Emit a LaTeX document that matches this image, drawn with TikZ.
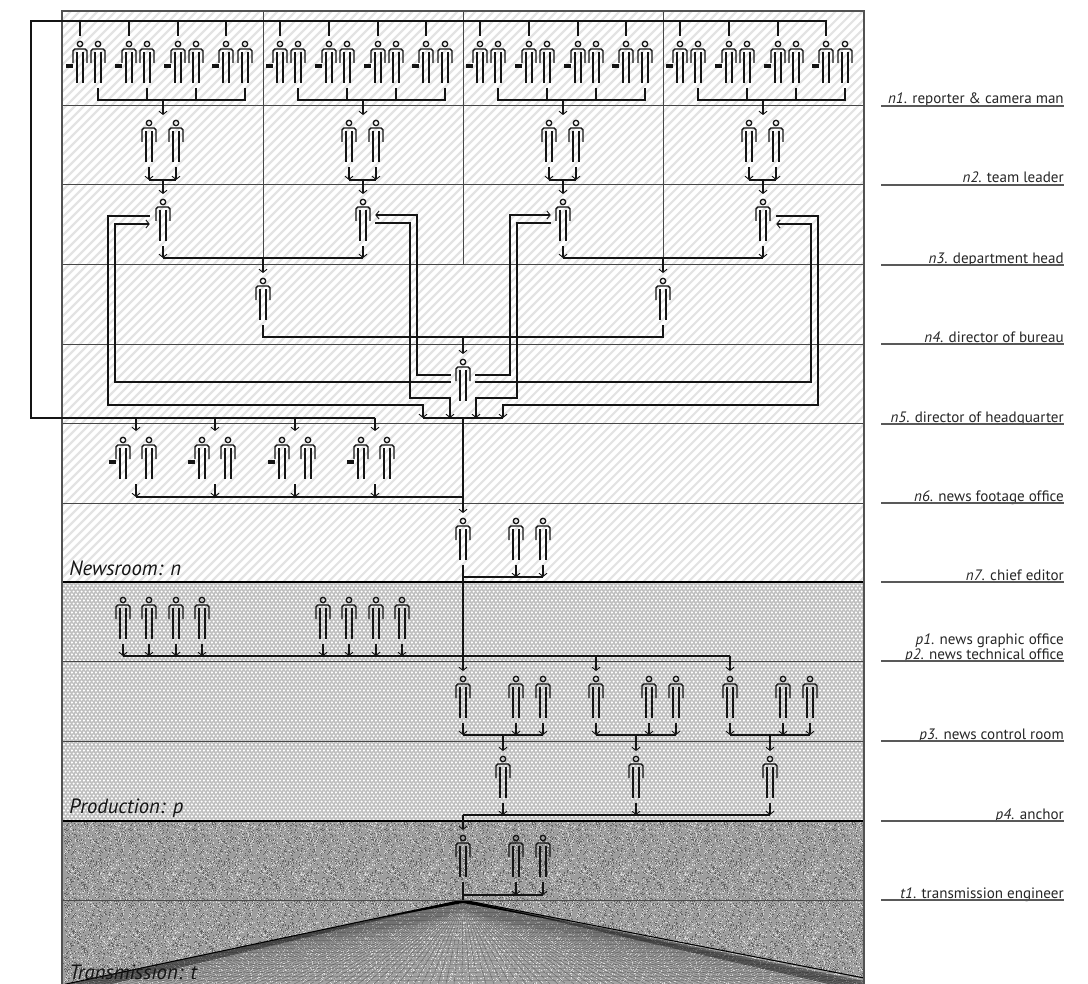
\documentclass[tikz,border=0pt]{standalone}
\usepackage{fontspec}
\setmainfont{PT Sans}
\usetikzlibrary{arrows.meta,calc,patterns}
\pgfdeclarepatternformonly{hexcells}{\pgfqpoint{0pt}{0pt}}{\pgfqpoint{2.8pt}{4.8pt}}{\pgfqpoint{2.8pt}{4.8pt}}{%
  \pgfpathcircle{\pgfqpoint{0.7pt}{1.2pt}}{0.95pt}%
  \pgfpathcircle{\pgfqpoint{2.1pt}{3.6pt}}{0.95pt}%
  \pgfusepath{fill}}
\pgfmathsetseed{4711}
\pgfdeclarepatternformonly{speckA}{\pgfqpoint{-1pt}{-1pt}}{\pgfqpoint{49pt}{49pt}}{\pgfqpoint{48pt}{48pt}}{%
  \foreach \n in {1,...,520}{\pgfmathsetmacro\sx{rnd*47}\pgfmathsetmacro\sy{rnd*47}%
    \pgfpathrectangle{\pgfpoint{\sx pt}{\sy pt}}{\pgfqpoint{0.75pt}{0.75pt}}\pgfusepath{fill}}}
\pgfdeclarepatternformonly{speckB}{\pgfqpoint{-1pt}{-1pt}}{\pgfqpoint{49pt}{49pt}}{\pgfqpoint{48pt}{48pt}}{%
  \foreach \n in {1,...,520}{\pgfmathsetmacro\sx{rnd*47}\pgfmathsetmacro\sy{rnd*47}%
    \pgfpathrectangle{\pgfpoint{\sx pt}{\sy pt}}{\pgfqpoint{0.75pt}{0.75pt}}\pgfusepath{fill}}}
\definecolor{ink}{gray}{0.08}
\tikzset{
  x=0.75pt,y=-0.75pt,
  figbox/.style={inner sep=0pt,minimum width=10.5pt,minimum height=31.9pt},
  figline/.style={draw=ink,line width=1pt},
  figure/.pic={
    \draw[figline] (0,0) circle [radius=2.7];
    \draw[figline,rounded corners=1.4pt] (-7,19)--(-7,5)--(7,5)--(7,19);
    \draw[figline] (-3,8)--(-3,39) (3,8)--(3,39);
  },
  camera/.pic={\fill[ink] (-14,20.3) rectangle (-7,24);},
  link/.style={draw=ink,line width=1.15pt},
  arr/.style={link,-{Straight Barb[length=2.4pt,width=6pt,line width=0.7pt]}},
  heavy/.style={draw=ink,line width=1.5pt},
  rowline/.style={draw=black!72,line width=0.75pt},
  rowheavy/.style={draw=black,line width=1.15pt},
  framed/.style={draw=black!68,line width=1.1pt},
  rule/.style={draw=black!65,line width=0.8pt},
  tag/.style={anchor=base east,inner sep=0pt,font=\fontsize{11.3pt}{13pt}\selectfont,text=black!85},
  zone/.style={anchor=base west,inner sep=0pt,font=\fontsize{15.5pt}{17pt}\selectfont\itshape,text=ink},
}
\newcommand\person[3]{%
  \node[figbox] (#1) at ({#2},{#3+18}) {};
  \coordinate (#1ft) at ({#2},{#3+44});
  \coordinate (#1cr) at ({#2},{#3-8});
  \pic at ({#2},{#3}) {figure};}
\newcommand\reporter[3]{\person{#1}{#2}{#3}\pic at ({#2},{#3}) {camera};}
\begin{document}
\begin{tikzpicture}
\useasboundingbox (0,0) rectangle (1088,984);
% ---------- backgrounds
\begin{scope}
  \clip (62,11) rectangle (864,582);
  \draw[draw=black!11,line width=1.6pt] foreach \k in {-509,-500,...,864} {(\k,582) -- ({\k+571},11)};
\end{scope}
\fill[black!25] (62,582) rectangle (864,821);
\fill[pattern=hexcells,pattern color=white] (62,582) rectangle (864,821);
\fill[black!38] (62,821) rectangle (864,984);
\fill[pattern=speckA,pattern color=black!15] (62,821) rectangle (864,984);
\fill[pattern=speckB,pattern color=black!62] (62,821) rectangle (864,984);
% ---------- fan
\coordinate (apex) at (463,900);
\begin{scope}
  \clip (apex) -- (66,984) -- (864,984) -- (864,978) -- cycle;
  \fill[black!36] (62,900) rectangle (864,984);
  \fill[pattern=speckA,pattern color=black!12] (62,900) rectangle (864,984);
  \draw[draw=black,opacity=.3,line width=.4pt] foreach \k in {62,70,...,866} {(apex) -- (\k,984)};
  \draw[draw=black,opacity=.4,line width=.3pt] foreach \k in {68,71,...,110} {(apex) -- (\k,984)};
  \draw[draw=black,opacity=.4,line width=.3pt] foreach \k in {830,833,...,880} {(apex) -- (\k,984)};
  \draw[draw=black,opacity=.15,line width=.35pt] foreach \k in {904,908,...,984} {(62,\k) -- (864,\k)};
\end{scope}
\fill[black] (apex) -- (370,920) -- (463,903) -- (565,922) -- cycle;
\draw[draw=black,line width=.8pt] (apex) -- (66,984);
\draw[draw=black,line width=.8pt] (apex) -- (864,978);
% ---------- row and column rules
\foreach \yy in {106,185,265,344,423,503,661,741,900} {\draw[rowline] (62,\yy) -- (864,\yy);}
\foreach \yy in {582,821} {\draw[rowheavy] (62,\yy) -- (864,\yy);}
\foreach \xx in {263,463,663} {\draw[rowline] (\xx,11) -- (\xx,265);}
\draw[framed] (62,11) rectangle (864,986);
% ---------- people
\foreach \b/\bx in {0/0,1/200,2/400,3/600}{
  \foreach \i/\rx/\cx in {1/80/98,2/129/147,3/178/196,4/226/245}{
    \reporter{R\b\i}{\rx+\bx}{44}
    \person{C\b\i}{\cx+\bx}{44}
  }
  \person{S\b1}{149+\bx}{123}
  \person{S\b2}{176+\bx}{123}
  \person{H\b}{163+\bx}{202}
}
\person{D0}{263}{281}
\person{D1}{663}{281}
\person{X}{463}{362}
\foreach \i/\rx/\cx in {1/123/149,2/202/228,3/282/308,4/361/387}{
  \reporter{F\i}{\rx}{440}
  \person{G\i}{\cx}{440}
}
\person{E0}{463}{521}\person{E1}{516}{521}\person{E2}{543}{521}
\foreach \i/\qx in {1/123,2/149,3/176,4/202,5/323,6/349,7/376,8/402}{\person{Q\i}{\qx}{600}}
\foreach \i/\bx in {1/0,2/133,3/267}{
  \person{P\i0}{463+\bx}{679}\person{P\i1}{516+\bx}{679}\person{P\i2}{543+\bx}{679}
}
\person{A1}{503}{759}\person{A2}{636}{759}\person{A3}{770}{759}
\person{T0}{463}{838}\person{T1}{516}{838}\person{T2}{543}{838}
% ---------- top levels wiring
\coordinate (c9) at (31,21);
\coordinate (c10) at (31,418);
\coordinate (bus) at (463,418);
\foreach \i/\fx in {1/136,2/215,3/295,4/375}{
  \coordinate (Fj\i) at (\fx,418);
  \coordinate (Fk\i) at (\fx,497);
}
\draw[heavy] (R34cr) |- (c9) -- (c10) -- (Fj4);
\foreach \b/\bx in {0/0,1/200,2/400,3/600}{
  \foreach \i in {1,2,3,4}{\draw[heavy] (R\b\i cr) -- (R\b\i cr |- c9);}
  \coordinate (J\b) at (163+\bx,100);
  \draw[link] (C\b1ft) -- (C\b1ft |- J\b) -- (C\b4ft |- J\b) -- (C\b4ft);
  \draw[link] (C\b2ft) -- (C\b2ft |- J\b);
  \draw[link] (C\b3ft) -- (C\b3ft |- J\b);
  \draw[arr] (J\b) -- (J\b |- S\b1cr);
  \coordinate (K\b) at (163+\bx,180);
  \draw[arr] (S\b1ft) -- (S\b1ft |- K\b);
  \draw[arr] (S\b2ft) -- (S\b2ft |- K\b);
  \draw[link] (S\b1ft |- K\b) -- (S\b2ft |- K\b);
  \draw[arr] (K\b) -- (H\b cr);
}
\coordinate (L0) at (263,258);
\coordinate (L1) at (663,258);
\draw[arr] (H0ft) -- (H0ft |- L0);
\draw[arr] (H1ft) -- (H1ft |- L0);
\draw[link] (H0ft |- L0) -- (H1ft |- L0);
\draw[arr] (L0) -- (D0cr);
\draw[arr] (H2ft) -- (H2ft |- L1);
\draw[arr] (H3ft) -- (H3ft |- L1);
\draw[link] (H2ft |- L1) -- (H3ft |- L1);
\draw[arr] (L1) -- (D1cr);
\coordinate (M) at (463,337);
\draw[link] (D0ft) |- (M);
\draw[link] (D1ft) |- (M);
\draw[arr] (M) -- (Xcr);
% ---------- director <-> department heads
\coordinate (XL1) at ($(X.west)+(-5,-5)$);
\coordinate (XL2) at ($(X.west)+(-5,2)$);
\coordinate (XR1) at ($(X.east)+(5,-5)$);
\coordinate (XR2) at ($(X.east)+(5,2)$);
\coordinate (H0o) at ($(H0.west)+(-6,-4)$);
\coordinate (H0i) at ($(H0.west)+(-6,4)$);
\coordinate (H1o) at ($(H1.east)+(5,-5)$);
\coordinate (H1i) at ($(H1.east)+(5,3)$);
\coordinate (H2o) at ($(H2.west)+(-5,-5)$);
\coordinate (H2i) at ($(H2.west)+(-5,3)$);
\coordinate (H3o) at ($(H3.east)+(6,-4)$);
\coordinate (H3i) at ($(H3.east)+(6,4)$);
\coordinate (c1) at (108,405);
\coordinate (c2) at (115,382);
\coordinate (c3) at (417,375);
\coordinate (c4) at (410,398);
\coordinate (c5) at (510,375);
\coordinate (c6) at (517,398);
\coordinate (c7) at (818,405);
\coordinate (c8) at (811,382);
\coordinate (b1) at (423,418);
\coordinate (b2) at (450,418);
\coordinate (b3) at (476,418);
\coordinate (b4) at (503,418);
\draw[arr] (H0o) -| (c1) -| (b1);
\draw[arr] (XL2) -- (c2) |- (H0i);
\draw[arr] (XL1) -- (c3) |- (H1o);
\draw[arr] (H1i) -| (c4) -| (b2);
\draw[arr] (XR1) -- (c5) |- (H2o);
\draw[arr] (H2i) -| (c6) -| (b3);
\draw[arr] (H3o) -| (c7) -| (b4);
\draw[arr] (XR2) -- (c8) |- (H3i);
\draw[heavy] (b1) -- (b4);
% ---------- trunk
\coordinate (N) at (463,497);
\coordinate (Q) at (463,577);
\coordinate (W) at (463,656);
\draw[heavy,-{Straight Barb[length=2.4pt,width=6pt,line width=0.7pt]}] (bus) -- (E0cr);
\draw[heavy] (E0ft) -- (Q) -- (W);
\draw[arr] (W) -- (P10cr);
% news footage
\foreach \i in {1,2,3,4}{
  \draw[arr] (Fj\i) -- ($(Fj\i)+(0,13)$);
  \draw[arr] ($(Fk\i)+(0,-13)$) -- (Fk\i);
}
\draw[link] (Fk1) -- (N);
% chief editor
\draw[arr] (E1ft) -- (E1ft |- Q);
\draw[arr] (E2ft) -- (E2ft |- Q);
\draw[link] (Q) -- (E2ft |- Q);
% p1/p2 bus
\foreach \i in {1,...,8}{\draw[arr] (Q\i ft) -- (Q\i ft |- W);}
\draw[link] (Q1ft |- W) -- (P30cr |- W);
\draw[arr] (P20cr |- W) -- (P20cr);
\draw[arr] (P30cr |- W) -- (P30cr);
% control room
\foreach \i in {1,2,3}{
  \coordinate (Z\i) at (A\i cr |- 0,735);
  \draw[arr] (P\i0ft) -- (P\i0ft |- Z\i);
  \draw[arr] (P\i1ft) -- (P\i1ft |- Z\i);
  \draw[arr] (P\i2ft) -- (P\i2ft |- Z\i);
  \draw[link] (P\i0ft |- Z\i) -- (P\i2ft |- Z\i);
  \draw[arr] (Z\i) -- (A\i cr);
}
% anchor
\coordinate (Y) at (463,815);
\foreach \i in {1,2,3}{\draw[arr] (A\i ft) -- (A\i ft |- Y);}
\draw[heavy] (Y) -- (A3ft |- Y);
\draw[arr] (Y) -- (T0cr);
% transmission
\coordinate (V) at (463,895);
\draw[arr] (T1ft) -- (T1ft |- V);
\draw[arr] (T2ft) -- (T2ft |- V);
\draw[link] (V) -- (T2ft |- V);
\draw[link] (T0ft) -- (apex);
% ---------- zone names
\node[zone] (zn) at (69,575) {Newsroom: n};
\node[zone] (zp) at (69,813) {Production: p};
\node[zone] (zt) at (69,979) {Transmission: t};
% ---------- labels
\foreach \nm/\yy/\ttl/\rest in {
  ln1/106/n1/reporter \& camera man,
  ln2/185/n2/team leader,
  ln3/265/n3/department head,
  ln4/344/n4/director of bureau,
  ln5/424/n5/director of headquarter,
  ln6/503/n6/news footage office,
  ln7/582/n7/chief editor,
  lp2/661/p2/news technical office,
  lp3/741/p3/news control room,
  lp4/821/p4/anchor,
  lt1/900/t1/transmission engineer}{
  \node[tag] (\nm) at (1064,\yy-2) {\textit{\ttl}. \rest};
  \coordinate (\nm a) at (881,\yy);
  \coordinate (\nm b) at (1064,\yy);
  \draw[rule] (\nm a) -- (\nm b);
}
\node[tag] (lp1) at (1064,644.5) {\textit{p1}. news graphic office};
\end{tikzpicture}
\end{document}
